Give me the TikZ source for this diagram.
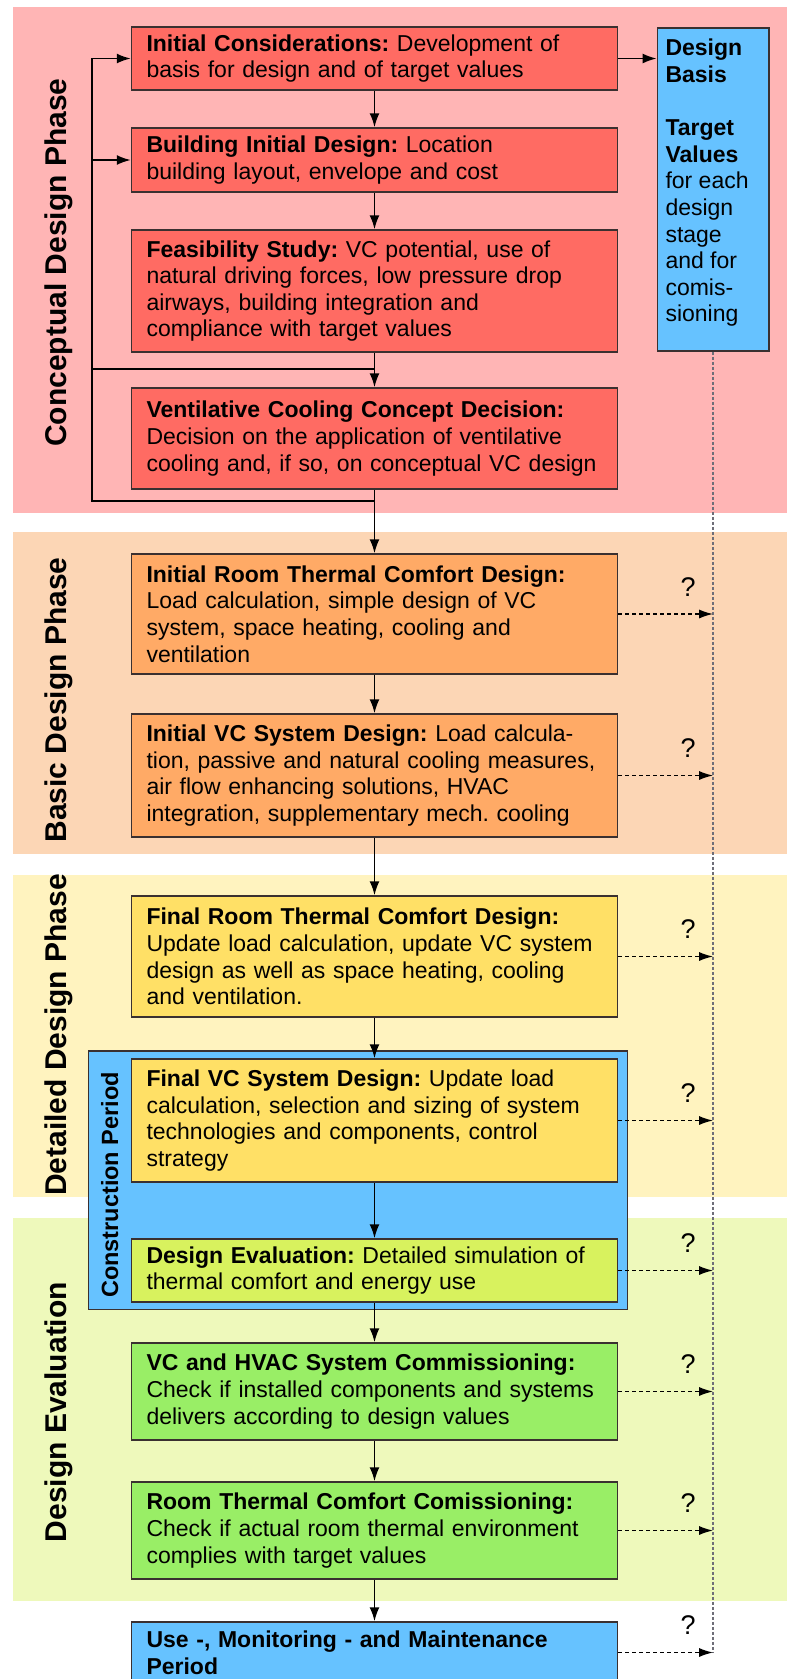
\documentclass[tikz,border=0pt]{standalone}
\usepackage{fontspec}
\setmainfont{Liberation Sans}
\usetikzlibrary{arrows.meta,calc}
\definecolor{pinkband}{HTML}{FFB5B5}
\definecolor{redbox}{HTML}{FF6B63}
\definecolor{peachband}{HTML}{FCD6B5}
\definecolor{orangebox}{HTML}{FFAA66}
\definecolor{yellowband}{HTML}{FFF3BF}
\definecolor{yellowbox}{HTML}{FFE066}
\definecolor{greenband}{HTML}{EEF9BB}
\definecolor{greenbox}{HTML}{99EE66}
\definecolor{evalbox}{HTML}{D8F25E}
\definecolor{bluebox}{HTML}{66C2FF}
\definecolor{boxline}{HTML}{3A3030}
\definecolor{dotgray}{HTML}{6E6E78}
\newcommand{\stagefont}{\fontsize{23pt}{26.6pt}\selectfont\frenchspacing}
\newcommand{\phasefont}{\fontsize{30pt}{36pt}\selectfont\bfseries}
\tikzset{
  stagebox/.style={draw=boxline, line width=1.5pt, minimum width=486pt,
    text width=456pt, inner xsep=15pt, inner ysep=0pt, align=left, font=\stagefont},
  phaselabel/.style={rotate=90, anchor=base, font=\phasefont, inner sep=0pt},
  conn/.style={draw=black, line width=1.8pt},
  arr/.style={-{Latex[length=14pt,width=10pt]}},
  dasharr/.style={draw=black, line width=1.7pt, dash pattern=on 4pt off 3pt,
    -{Latex[length=14pt,width=9pt]}},
  dotline/.style={draw=dotgray, line width=1.7pt, dash pattern=on 3pt off 2pt},
  qmark/.style={font=\fontsize{27pt}{30pt}\selectfont, inner sep=0pt}
}
\begin{document}
\begin{tikzpicture}[x=1pt,y=-1pt]
\useasboundingbox (0,0) rectangle (787,1679);
\clip (0,0) rectangle (787,1679);
\fill[white] (0,0) rectangle (787,1679);
% phase bands
\fill[pinkband] (12.7,7.3) rectangle (787,513);
\fill[peachband] (12.7,532.3) rectangle (787,854);
\fill[yellowband] (12.7,875) rectangle (787,1197);
\fill[greenband] (12.7,1218) rectangle (787,1600.5);
% phase labels
\node (lab1) [phaselabel] at (66.5,262.5) {Conceptual Design Phase};
\node (lab2) [phaselabel] at (66.5,700) {Basic Design Phase};
\node (lab3) [phaselabel] at (66.5,1035) {Detailed Design Phase};
\node (lab4) [phaselabel] at (66.5,1412) {Design Evaluation};
% construction period frame
\node (cons) [draw=boxline, line width=1.5pt, fill=bluebox, minimum width=539.4pt,
  minimum height=258.7pt, inner sep=0pt] at (358,1180.35) {};
\node (conslab) [rotate=90, anchor=base, inner sep=0pt,
  font=\fontsize{23.5pt}{26.6pt}\selectfont\bfseries] at (118,1185) {Construction Period};
% design basis
\node (dbasis) [draw=boxline, line width=1.5pt, fill=bluebox, minimum width=111.7pt,
  minimum height=323.3pt, inner sep=0pt] at (713.2,189.4) {};
\node (dbtext) [anchor=north west, inner sep=0pt, align=left, font=\stagefont]
  at ($(dbasis.north west)+(8.7,12)$)
  {\textbf{Design}\\ \textbf{Basis}\\[26.6pt] \textbf{Target}\\ \textbf{Values}\\ for each\\ design\\ stage\\ and for\\ comis-\\ sioning};
% stage boxes
\node (b1) [stagebox, fill=redbox, minimum height=63pt] at (374.5,58.5)
  {\textbf{Initial Considerations:} Development of\\ basis for design and of target values};
\node (b2) [stagebox, fill=redbox, minimum height=64pt] at (374.5,160)
  {\textbf{Building Initial Design:} Location\\ building layout, envelope and cost};
\node (b3) [stagebox, fill=redbox, minimum height=122pt] at (374.5,291)
  {\textbf{Feasibility Study:} VC potential, use of\\ natural driving forces, low pressure drop\\ airways, building integration and\\ compliance with target values};
\node (b4) [stagebox, fill=redbox, minimum height=101pt] at (374.5,438.5)
  {\textbf{Ventilative Cooling Concept Decision:}\\ Decision on the application of ventilative\\ cooling and, if so, on conceptual VC design};
\node (b5) [stagebox, fill=orangebox, minimum height=120pt] at (374.5,614)
  {\textbf{Initial Room Thermal Comfort Design:}\\ Load calculation, simple design of VC\\ system, space heating, cooling and\\ ventilation};
\node (b6) [stagebox, fill=orangebox, minimum height=123pt] at (374.5,775.5)
  {\textbf{Initial VC System Design:} Load calcula-\\ tion, passive and natural cooling measures,\\ air flow enhancing solutions, HVAC\\ integration, supplementary mech. cooling};
\node (b7) [stagebox, fill=yellowbox, minimum height=121pt] at (374.5,956.5)
  {\textbf{Final Room Thermal Comfort Design:}\\ Update load calculation, update VC system\\ design as well as space heating, cooling\\ and ventilation.};
\node (b8) [stagebox, fill=yellowbox, minimum height=123pt] at (374.5,1120.5)
  {\textbf{Final VC System Design:} Update load\\ calculation, selection and sizing of system\\ technologies and components, control\\ strategy};
\node (b9) [stagebox, fill=evalbox, minimum height=63pt] at (374.5,1270.5)
  {\textbf{Design Evaluation:} Detailed simulation of\\ thermal comfort and energy use};
\node (b10) [stagebox, fill=greenbox, minimum height=97pt] at (374.5,1391.5)
  {\textbf{VC and HVAC System Commissioning:}\\ Check if installed components and systems\\ delivers according to design values};
\node (b11) [stagebox, fill=greenbox, minimum height=97pt] at (374.5,1530.5)
  {\textbf{Room Thermal Comfort Comissioning:}\\ Check if actual room thermal environment\\ complies with target values};
\node (b12) [stagebox, fill=bluebox, minimum height=61pt] at (374.5,1652.5)
  {\textbf{Use -, Monitoring - and Maintenance}\\ \textbf{Period}};
% main flow
\coordinate (j1) at (374.5,500.7);
\coordinate (fb) at (91.7,500.7);
\coordinate (j2) at (374.5,369);
\draw[conn,arr] (b1.south) -- (b2.north);
\draw[conn,arr] (b2.south) -- (b3.north);
\draw[conn,arr] (b3.south) -- (b4.north);
\draw[conn] (b4.south) -- (j1);
\draw[conn,arr] (j1) -- (fb) |- (b1.west);
\draw[conn,arr] (fb |- b2.west) -- (b2.west);
\draw[conn] (fb |- j2) -- (j2);
\draw[conn,arr] (j1) -- (b5.north);
\draw[conn,arr] (b5.south) -- (b6.north);
\draw[conn,arr] (b6.south) -- (b7.north);
\draw[conn,arr] (b7.south) -- (b8.north);
\draw[conn,arr] (b8.south) -- (b9.north);
\draw[conn,arr] (b9.south) -- (b10.north);
\draw[conn,arr] (b10.south) -- (b11.north);
\draw[conn,arr] (b11.south) -- (b12.north);
\draw[conn,arr] (b1.east) -- (b1.east -| dbasis.west);
% design basis feedback line
\draw[dotline] (dbasis.south) -- (b12.east -| dbasis.south);
\foreach \b in {b5,b6,b7,b8,b9,b10,b11,b12}{
  \draw[dasharr] (\b.east) -- (\b.east -| dbasis.south);
  \node (q\b) [qmark] at ($(\b.east -| dbasis.south)+(-25,-27)$) {?};
}
\end{tikzpicture}
\end{document}
